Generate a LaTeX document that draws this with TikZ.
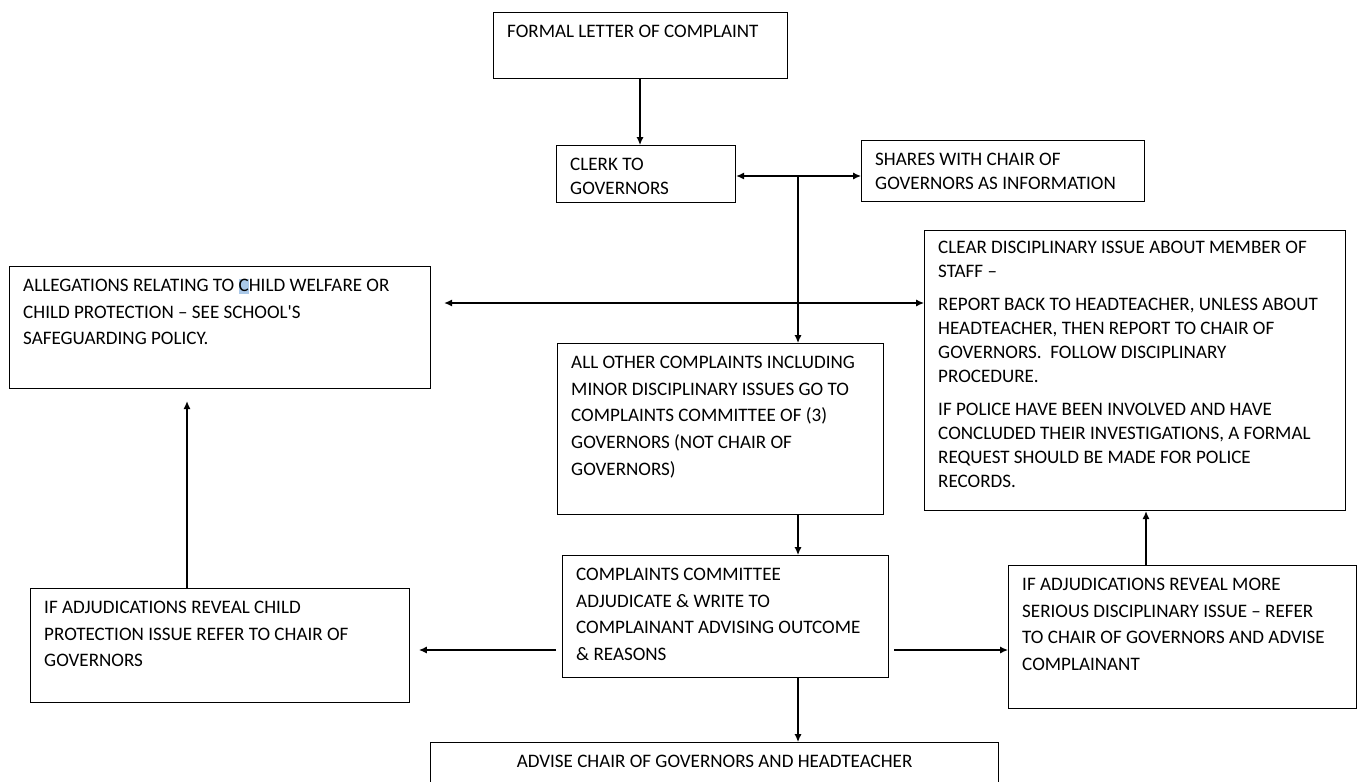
\documentclass[tikz,border=0pt]{standalone}
\usepackage{fontspec}
\setmainfont{Carlito}
\usetikzlibrary{arrows.meta}
\definecolor{selblue}{RGB}{170,200,232}
\setlength{\fboxsep}{0pt}

\begin{document}
\begin{tikzpicture}
  [x=0.02cm, y=-0.02cm,
   panel/.style={draw, line width=0.7pt, anchor=north west, inner sep=0pt},
   boxtext/.style={anchor=north west, inner xsep=7.9pt, inner ysep=7.1pt, align=left,
     font=\fontsize{10.85}{15.3}\selectfont},
   snug/.style={font=\fontsize{10.85}{13.6}\selectfont},
   link/.style={line width=0.7pt, -{Latex[length=4.5pt,width=4pt]}},
   twoway/.style={line width=0.7pt, {Latex[length=4.5pt,width=4pt]}-{Latex[length=4.5pt,width=4pt]}}]

  \useasboundingbox (0,0) rectangle (1362,781);

  % boxes
  \node[panel, minimum width=5.88cm, minimum height=1.32cm] (letter) at (493,12) {};
  \node[panel, minimum width=3.58cm, minimum height=1.14cm] (clerk) at (556,145) {};
  \node[panel, minimum width=5.66cm, minimum height=1.22cm] (shares) at (861,140) {};
  \node[panel, minimum width=8.42cm, minimum height=2.44cm] (alleg) at (9,266) {};
  \node[panel, minimum width=8.42cm, minimum height=5.60cm] (clear) at (924,230) {};
  \node[panel, minimum width=6.52cm, minimum height=3.42cm] (other) at (557,343) {};
  \node[panel, minimum width=6.52cm, minimum height=2.44cm] (cttee) at (562,555) {};
  \node[panel, minimum width=7.58cm, minimum height=2.28cm] (child) at (30,588) {};
  \node[panel, minimum width=6.96cm, minimum height=2.86cm] (serious) at (1008,565) {};
  \node[panel, minimum width=11.36cm, minimum height=1.20cm] (advise) at (430,742) {};

  % texts
  \node[boxtext] (letterT) at (letter.north west) {FORMAL LETTER OF COMPLAINT};
  \node[boxtext, snug] (clerkT) at (clerk.north west) {CLERK TO\\GOVERNORS};
  \node[boxtext, snug] (sharesT) at (shares.north west) {SHARES WITH CHAIR OF\\GOVERNORS AS INFORMATION};
  \node[boxtext] (allegT) at (alleg.north west)
    {ALLEGATIONS RELATING TO \colorbox{selblue}{\rule[-1.6pt]{0pt}{8.4pt}C}HILD WELFARE OR\\
     CHILD PROTECTION – SEE SCHOOL\textquotesingle S\\
     SAFEGUARDING POLICY.};
  \node[boxtext, snug, inner ysep=6pt] (clearT) at (clear.north west)
    {CLEAR DISCIPLINARY ISSUE ABOUT MEMBER OF\\
     STAFF –\\[5.6pt]
     REPORT BACK TO HEADTEACHER, UNLESS ABOUT\\
     HEADTEACHER, THEN REPORT TO CHAIR OF\\
     GOVERNORS.\ \ FOLLOW DISCIPLINARY\\
     PROCEDURE.\\[5.2pt]
     IF POLICE HAVE BEEN INVOLVED AND HAVE\\
     CONCLUDED THEIR INVESTIGATIONS, A FORMAL\\
     REQUEST SHOULD BE MADE FOR POLICE\\
     RECORDS.};
  \node[boxtext] (otherT) at (other.north west)
    {ALL OTHER COMPLAINTS INCLUDING\\
     MINOR DISCIPLINARY ISSUES GO TO\\
     COMPLAINTS COMMITTEE OF (3)\\
     GOVERNORS (NOT CHAIR OF\\
     GOVERNORS)};
  \node[boxtext] (ctteeT) at (cttee.north west)
    {COMPLAINTS COMMITTEE\\
     ADJUDICATE \& WRITE TO\\
     COMPLAINANT ADVISING OUTCOME\\
     \& REASONS};
  \node[boxtext] (childT) at (child.north west)
    {IF ADJUDICATIONS REVEAL CHILD\\
     PROTECTION ISSUE REFER TO CHAIR OF\\
     GOVERNORS};
  \node[boxtext] (seriousT) at (serious.north west)
    {IF ADJUDICATIONS REVEAL MORE\\
     SERIOUS DISCIPLINARY ISSUE – REFER\\
     TO CHAIR OF GOVERNORS AND ADVISE\\
     COMPLAINANT};
  \node[boxtext, anchor=north] (adviseT) at (advise.north) {ADVISE CHAIR OF GOVERNORS AND HEADTEACHER};

  % guide lines for the connectors
  \coordinate (colL) at (187,0);
  \coordinate (colT) at (640,0);
  \coordinate (colM) at (798,0);
  \coordinate (colR) at (1146,0);
  \coordinate (rowB) at (0,303);
  \coordinate (rowC) at (0,650);
  \coordinate (hub) at (798,176);

  % connectors
  \draw[link] (letter.south -| colT) -- (clerk.north -| colT);
  \draw[link] (hub) -- (clerk.east |- hub);
  \draw[link] (hub) -- (shares.west |- hub);
  \draw[link] (hub) -- (other.north -| hub);
  \draw[twoway, shorten <=7.4pt] (alleg.east |- rowB) -- (clear.west |- rowB);
  \draw[link] (other.south -| colM) -- (cttee.north -| colM);
  \draw[link] (cttee.south -| colM) -- (advise.north -| colM);
  \draw[link, shorten <=3.4pt, shorten >=5pt] (cttee.west |- rowC) -- (child.east |- rowC);
  \draw[link, shorten <=2.8pt] (cttee.east |- rowC) -- (serious.west |- rowC);
  \draw[link, shorten >=6.8pt] (child.north -| colL) -- (alleg.south -| colL);
  \draw[link] (serious.north -| colR) -- (clear.south -| colR);

\end{tikzpicture}
\end{document}
